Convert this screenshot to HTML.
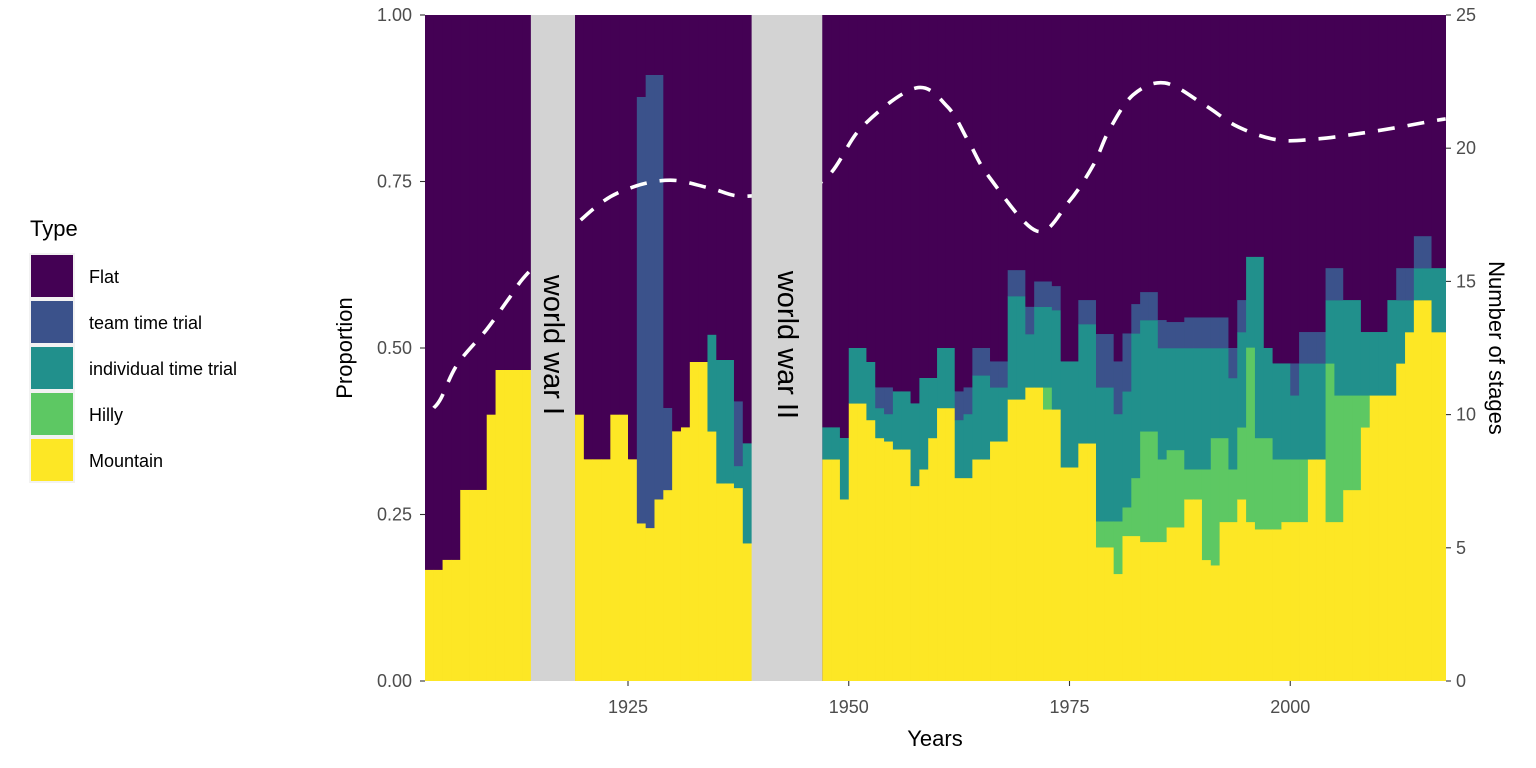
<!DOCTYPE html>
<html><head><meta charset="utf-8"><style>
html,body{margin:0;padding:0;background:#fff;}
svg{display:block;font-family:"Liberation Sans",Arial,sans-serif;}
</style></head><body>
<svg id="chart" width="1536" height="768" viewBox="0 0 1536 768">
<defs><clipPath id="panel"><rect x="425" y="15" width="1021" height="666"/></clipPath></defs>
<g id="bars" clip-path="url(#panel)"></g>
<g id="line" clip-path="url(#panel)"></g>
<g id="wars"></g>
<g id="axes"></g>
<g id="legend"></g>
</svg>
<script>
const years = [1902,1903,1904,1905,1906,1907,1908,1909,1910,1911,1912,1913,
1919,1920,1921,1922,1923,1924,1925,1926,1927,1928,1929,1930,1931,1932,1933,1934,1935,1936,1937,1938,
1947,1948,1949,1950,1951,1952,1953,1954,1955,1956,1957,1958,1959,1960,1961,1962,1963,1964,1965,1966,1967,1968,1969,1970,1971,1972,1973,1974,1975,1976,1977,1978,1979,1980,1981,
1982,1983,1984,1985,1986,1987,1988,1989,1990,1991,1992,1993,1994,1995,1996,1997,1998,1999,2000,2001,2002,2003,2004,2005,2006,2007,2008,2009,2010,2011,2012,2013,2014,2015,2016,2017];
const mountain = [.167,.167,.182,.182,.287,.287,.287,.40,.467,.467,.467,.467,
.40,.333,.333,.333,.40,.40,.333,.237,.23,.273,.287,.375,.381,.479,.479,.375,.297,.297,.29,.207,
.333,.333,.273,.417,.417,.392,.365,.36,.348,.348,.293,.318,.365,.41,.41,.305,.305,.333,.333,.36,.36,.423,.423,.441,.441,.408,.408,.321,.321,.357,.357,.201,.201,.161,.218,
.218,.209,.209,.209,.231,.231,.273,.273,.182,.174,.239,.239,.273,.239,.228,.228,.228,.239,.239,.239,.333,.333,.239,.239,.287,.287,.381,.429,.429,.429,.477,.524,.572,.572,.524,.524];
const hilly = [0,0,0,0,0,0,0,0,0,0,0,0,
0,0,0,0,0,0,0,0,0,0,0,0,0,0,0,0,0,0,0,0,
0,0,0,0,0,0,0,0,0,0,0,0,0,0,0,0,0,0,0,0,0,0,0,0,0,.033,0,0,0,0,0,.039,.039,.079,.043,
.087,.166,.166,.124,.116,.116,.045,.045,.136,.191,.126,.079,.108,.262,.137,.137,.105,.094,.094,.094,0,0,.238,.19,.142,.142,.048,0,0,0,0,0,0,0,0,0];
const itt = [0,0,0,0,0,0,0,0,0,0,0,0,
0,0,0,0,0,0,0,0,0,0,0,0,0,0,0,.145,.185,.185,.033,.15,
.048,.048,.092,.083,.083,.087,.045,.041,.087,.087,.124,.137,.09,.09,.09,.087,.096,.126,.126,.081,.081,.155,.155,.08,.121,.121,.149,.159,.159,.179,.179,.201,.201,.161,.174,
.217,.167,.167,.167,.153,.153,.182,.182,.182,.135,.135,.137,.143,.136,.272,.135,.144,.144,.096,.144,.144,.144,.095,.143,.143,.143,.095,.095,.095,.143,.095,.048,.048,.048,.096,.096];
const ttt = [0,0,0,0,0,0,0,0,0,0,0,0,
0,0,0,0,0,0,0,.64,.68,.637,.123,0,0,0,0,0,0,0,.097,0,
0,0,0,0,0,0,.031,.04,0,0,0,0,0,0,0,.043,.04,.041,.041,.039,.039,.039,.039,.041,.038,.038,.036,0,0,.036,.036,.08,.08,.079,.087,
.044,.042,.042,.042,.039,.039,.046,.046,.046,.046,.046,.045,.048,0,0,0,0,0,.048,.047,.047,.047,.048,.048,0,0,0,0,0,0,.048,.048,.048,.048,0,0];
const lineYears  = [1903,1903.8,1905.7,1909,1911.6,1913.9,1921,1925.2,1929.8,1934.3,1938.5,1946.7,1951.5,1957.6,1961.2,1963.6,1965.9,1971.3,1974.9,1977.7,1979.5,1982.2,1985.8,1990.3,1994.1,1998.6,2003.1,2007.4,2011.8,2016.1,2017.6];
const lineStages = [10.25,10.6,11.9,13.2,14.4,15.4,17.7,18.5,18.8,18.5,18.2,18.69,20.8,22.26,21.55,20.23,18.92,16.89,17.98,19.37,20.68,22.0,22.45,21.62,20.8,20.31,20.35,20.53,20.76,21.02,21.1];
const xTicks = [1925,1950,1975,2000];
const yTicks = [0,0.25,0.5,0.75,1];
const yTickLabels = ["0.00","0.25","0.50","0.75","1.00"];
const y2Ticks = [0,5,10,15,20,25];
const wars = [[1914,1919,"world war I"],[1939,1947,"world war II"]];
const types = ["Flat","team time trial","individual time trial","Hilly","Mountain"];
const colors = ["#440154","#3B528B","#21908C","#5DC863","#FDE725"];

const NS="http://www.w3.org/2000/svg";
const X=v=>628+(v-1925)*8.83;
const Y=p=>681-p*666;
const Y2=n=>681-n*666/25;
function mk(tag,attrs,parent){const e=document.createElementNS(NS,tag);for(const k in attrs)e.setAttribute(k,attrs[k]);parent.appendChild(e);return e;}
const gb=document.getElementById('bars');
mk('rect',{x:425,y:15,width:1021,height:666,fill:colors[0]},gb);
years.forEach((yr,i)=>{
  const x0=X(yr),x1=X(yr+1)+0.4;
  const segs=[[mountain[i],colors[4],'mountain'],[hilly[i],colors[3],'hilly'],[itt[i],colors[2],'itt'],[ttt[i],colors[1],'ttt']];
  let cum=0;
  segs.forEach(s=>{
    if(s[0]>0){
      const r=mk('rect',{x:x0,y:Y(cum+s[0]),width:x1-x0,height:Y(cum)-Y(cum+s[0])+0.3,fill:s[1]},gb);
      
      
      cum+=s[0];
    }
  });
  const f=mk('rect',{x:x0,y:Y(1),width:x1-x0,height:Y(cum)-Y(1),fill:colors[0]},gb);
  
  
});
const pts=lineYears.map((yv,i)=>[X(yv),Y2(lineStages[i])]);
let d='M'+pts[0][0]+','+pts[0][1];
for(let i=0;i<pts.length-1;i++){
  const p0=pts[Math.max(0,i-1)],p1=pts[i],p2=pts[i+1],p3=pts[Math.min(pts.length-1,i+2)];
  const c1=[p1[0]+(p2[0]-p0[0])/6,p1[1]+(p2[1]-p0[1])/6];
  const c2=[p2[0]-(p3[0]-p1[0])/6,p2[1]-(p3[1]-p1[1])/6];
  d+=' C'+c1[0]+','+c1[1]+' '+c2[0]+','+c2[1]+' '+p2[0]+','+p2[1];
}
const ln=mk('path',{d:d,fill:'none',stroke:'#fff','stroke-width':3.6,'stroke-dasharray':'17 13'},document.getElementById('line'));


const gw=document.getElementById('wars');
wars.forEach(w=>{
  const r=mk('rect',{x:X(w[0]),y:15,width:X(w[1])-X(w[0]),height:666,fill:'#D3D3D3'},gw);
  
  
  const cx=(X(w[0])+X(w[1]))/2, cy=345;
  const t=mk('text',{x:cx,y:cy,transform:'rotate(90 '+cx+' '+cy+')','text-anchor':'middle','dominant-baseline':'central','font-size':29,fill:'#000'},gw);
  t.textContent=w[2];
  
  
});
const ga=document.getElementById('axes');
xTicks.forEach(v=>{
  mk('line',{x1:X(v),x2:X(v),y1:681,y2:686,stroke:'#333','stroke-width':1.1},ga);
  const t=mk('text',{x:X(v),y:713,'text-anchor':'middle','font-size':18,fill:'#4d4d4d'},ga);
  t.textContent=v;
  
  
});
yTicks.forEach((v,i)=>{
  mk('line',{x1:420,x2:425,y1:Y(v),y2:Y(v),stroke:'#333','stroke-width':1.1},ga);
  const t=mk('text',{x:412,y:Y(v)+6,'text-anchor':'end','font-size':18,fill:'#4d4d4d'},ga);
  t.textContent=yTickLabels[i];
  
  
});
y2Ticks.forEach(v=>{
  mk('line',{x1:1446,x2:1451,y1:Y2(v),y2:Y2(v),stroke:'#333','stroke-width':1.1},ga);
  const t=mk('text',{x:1456,y:Y2(v)+6,'text-anchor':'start','font-size':18,fill:'#4d4d4d'},ga);
  t.textContent=v;
  
  
});
const xt=mk('text',{x:935,y:746,'text-anchor':'middle','font-size':22,fill:'#000'},ga);xt.textContent='Years';


const yt=mk('text',{x:352,y:348,transform:'rotate(-90 352 348)','text-anchor':'middle','font-size':22,fill:'#000'},ga);yt.textContent='Proportion';


const y2t=mk('text',{x:1489,y:348,transform:'rotate(90 1489 348)','text-anchor':'middle','font-size':22,fill:'#000'},ga);y2t.textContent='Number of stages';


const gl=document.getElementById('legend');
const lt=mk('text',{x:30,y:236,'font-size':22,fill:'#000'},gl);lt.textContent='Type';


types.forEach((ty,i)=>{
  const y0=254+i*46;
  const k=mk('rect',{x:30,y:y0,width:44,height:44,fill:colors[i],stroke:'#f2f2f2','stroke-width':2},gl);
  
  
  const t=mk('text',{x:89,y:y0+29,'font-size':18,fill:'#000'},gl);t.textContent=ty;
  
  
});
</script>
</body></html>
